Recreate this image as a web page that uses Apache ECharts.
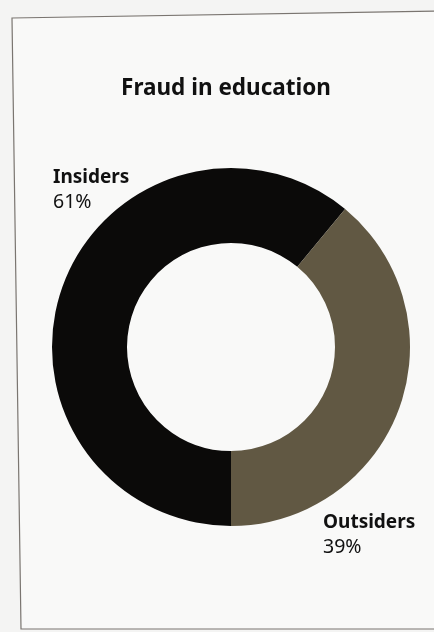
<!DOCTYPE html>
<html>
<head>
<meta charset="utf-8">
<script src="https://cdn.jsdelivr.net/npm/echarts@6/dist/echarts.min.js"></script>
<style>
html,body{margin:0;padding:0;background:#f4f4f3;}
#chart{width:434px;height:632px;}
</style>
</head>
<body>
<div id="chart"></div>
<script>
var titleText = 'Fraud in education';
var categories = ['Insiders', 'Outsiders'];
var values = [61, 39];
var colors = ['#0b0a09', '#615843'];

var chart = echarts.init(document.getElementById('chart'), null, {renderer: 'canvas'});
var labelPos = {
  0: {x: 53, y: 165},
  1: {x: 323, y: 510}
};
chart.setOption({
  animation: false,
  backgroundColor: '#f4f4f3',
  title: {
    text: titleText,
    left: 221,
    textAlign: 'center',
    top: 72,
    textStyle: {fontFamily: 'Noto Sans', fontWeight: 'bold', fontSize: 22.5, color: '#111'}
  },
  graphic: [
    {
      type: 'polygon',
      z: -1,
      shape: {points: [[12, 18], [440, 11], [440, 629], [21, 629]]},
      style: {fill: '#f9f9f8', stroke: '#7a7570', lineWidth: 1.2}
    }
  ],
  series: [{
    type: 'pie',
    center: [231, 347],
    radius: [104, 179],
    startAngle: -90,
    clockwise: true,
    silent: true,
    avoidLabelOverlap: false,
    data: categories.map(function (c, i) {
      return {name: c, value: values[i], itemStyle: {color: colors[i]}};
    }),
    label: {
      show: true,
      position: 'inside',
      formatter: function (p) { return '{a|' + p.name + '}\n{b|' + p.value + '%}'; },
      rich: {
        a: {fontFamily: 'Noto Sans', fontWeight: 'bold', fontSize: 19, lineHeight: 25, color: '#111'},
        b: {fontFamily: 'Noto Sans', fontWeight: 'normal', fontSize: 19.5, lineHeight: 25, color: '#111'}
      }
    },
    labelLine: {show: false},
    labelLayout: function (params) {
      var p = labelPos[params.dataIndex];
      return {x: p.x, y: p.y, align: 'left', verticalAlign: 'top'};
    }
  }]
});
</script>
</body>
</html>
